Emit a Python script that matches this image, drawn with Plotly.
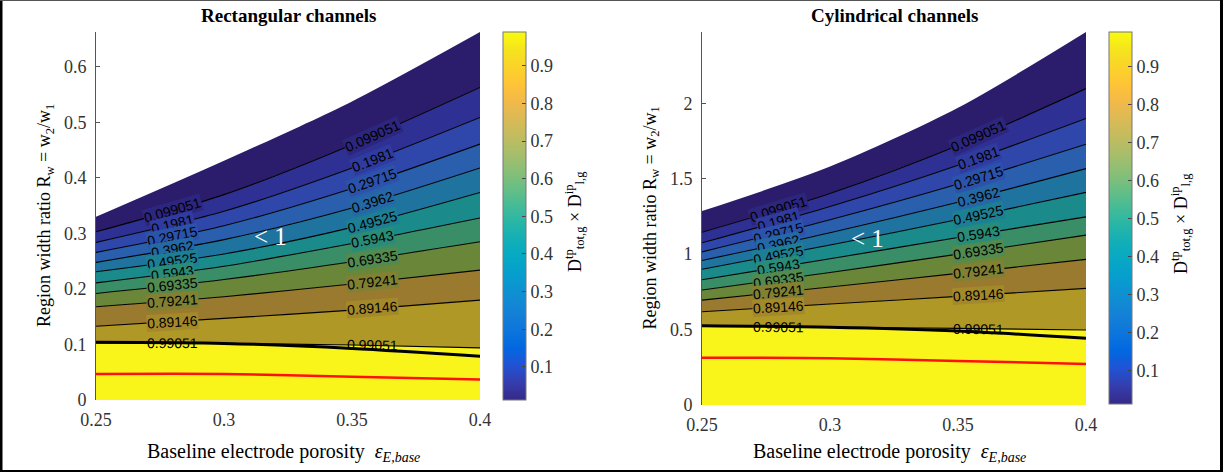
import numpy as np
import plotly.graph_objects as go

W, H = 1223, 472

# Baseline electrode porosity (x) sampling points
porosity = [0.25, 0.30, 0.35, 0.40]

# Contour levels of D_tot,g^tp x D_l,g^ip and their printed labels
levels = [0.099051, 0.1981, 0.29715, 0.3962, 0.49525, 0.5943, 0.69335, 0.79241, 0.89146, 0.99051]
level_text = ["0.099051", "0.1981", "0.29715", "0.3962", "0.49525",
              "0.5943", "0.69335", "0.79241", "0.89146", "0.99051"]

# Rectangular channels: region width ratio of each contour level at each porosity
rect_edge = [0.330, 0.431, 0.538, 0.663]
rect_lines = [
    [0.303, 0.370, 0.460, 0.563],
    [0.284, 0.340, 0.418, 0.509],
    [0.266, 0.314, 0.381, 0.461],
    [0.248, 0.289, 0.346, 0.418],
    [0.231, 0.263, 0.311, 0.374],
    [0.211, 0.241, 0.282, 0.328],
    [0.192, 0.217, 0.249, 0.285],
    [0.168, 0.186, 0.209, 0.234],
    [0.133, 0.147, 0.162, 0.180],
    [0.103, 0.102, 0.099, 0.094],
]
rect_unity = [0.104, 0.102, 0.093, 0.079]
rect_red = [0.047, 0.047, 0.042, 0.037]

# Cylindrical channels
cyl_edge = [1.285, 1.580, 1.970, 2.472]
cyl_lines = [
    [1.145, 1.402, 1.720, 2.097],
    [1.075, 1.315, 1.589, 1.899],
    [1.015, 1.228, 1.465, 1.728],
    [0.958, 1.141, 1.344, 1.567],
    [0.900, 1.060, 1.229, 1.409],
    [0.830, 0.969, 1.110, 1.247],
    [0.762, 0.878, 1.000, 1.126],
    [0.695, 0.782, 0.872, 0.965],
    [0.618, 0.669, 0.720, 0.773],
    [0.525, 0.516, 0.508, 0.497],
]
cyl_unity = [0.525, 0.515, 0.490, 0.442]
cyl_red = [0.313, 0.310, 0.292, 0.272]

# Colour range of the colorbar
c_range = [0.0119, 0.99]

# Filled band colours, from the lowest-value band (top) to the > 0.99 band (bottom)
band_colors = ["#2b1d6b", "#2f3093", "#2f47ab", "#2a5fae", "#1f749f", "#1b8a8a",
               "#3a8e67", "#6a8638", "#997a2e", "#b09826", "#f9f51a"]

parula_rgb = [
    (0.2081, 0.1663, 0.5292), (0.2081, 0.2386, 0.6771), (0.1253, 0.3242, 0.8303),
    (0.0060, 0.4086, 0.8828), (0.0498, 0.4586, 0.8641), (0.0779, 0.5040, 0.8384),
    (0.0641, 0.5570, 0.8240), (0.0265, 0.6137, 0.8135), (0.0228, 0.6535, 0.7768),
    (0.0590, 0.6838, 0.7254), (0.1453, 0.7098, 0.6646), (0.2586, 0.7317, 0.5954),
    (0.3953, 0.7459, 0.5244), (0.5300, 0.7491, 0.4661), (0.6473, 0.7456, 0.4188),
    (0.7525, 0.7384, 0.3768), (0.8507, 0.7299, 0.3360), (0.9450, 0.7261, 0.2886),
    (0.9990, 0.7653, 0.2164), (0.9788, 0.8271, 0.1633), (0.9589, 0.8949, 0.1132),
    (0.9763, 0.9831, 0.0538),
]
parula = [[i / (len(parula_rgb) - 1),
           "rgb(%d,%d,%d)" % tuple(int(round(255 * c)) for c in rgb)]
          for i, rgb in enumerate(parula_rgb)]

SERIF = "Liberation Serif, Times New Roman, serif"
SANS = "Liberation Sans, Arial, sans-serif"
TICK_COLOR = "#333333"


def px_x(p):
    return p / W


def px_y(p):
    return 1 - p / H


def mix(c1, c2):
    a = [int(c1[i:i + 2], 16) for i in (1, 3, 5)]
    b = [int(c2[i:i + 2], 16) for i in (1, 3, 5)]
    return "rgb(%d,%d,%d)" % tuple((u + v) // 2 for u, v in zip(a, b))


panels = [
    dict(title="Rectangular channels", xa="x", ya="y", xk="xaxis", yk="yaxis",
         px=(96, 480), py=(32, 400), edge=rect_edge, lines=rect_lines,
         unity=rect_unity, red=rect_red, yticks=[0, 0.1, 0.2, 0.3, 0.4, 0.5, 0.6],
         ytext=["0", "0.1", "0.2", "0.3", "0.4", "0.5", "0.6"],
         cbar_px=503, cbar_py=(32, 400), lt=(0.318, 0.294)),
    dict(title="Cylindrical channels", xa="x2", ya="y2", xk="xaxis2", yk="yaxis2",
         px=(702, 1086), py=(32, 405), edge=cyl_edge, lines=cyl_lines,
         unity=cyl_unity, red=cyl_red, yticks=[0, 0.5, 1, 1.5, 2],
         ytext=["0", "0.5", "1", "1.5", "2"],
         cbar_px=1109, cbar_py=(32, 404), lt=(0.3145, 1.104)),
]

fig = go.Figure()
annotations = []
layout_axes = {}

for pnl in panels:
    xa, ya = pnl["xa"], pnl["ya"]
    common = dict(xaxis=xa, yaxis=ya, showlegend=False, hoverinfo="skip")
    spline = dict(shape="spline", smoothing=0.8)

    # filled bands, bottom up
    fig.add_trace(go.Scatter(x=porosity, y=pnl["lines"][-1], mode="lines",
                             line=dict(width=0, **spline), fill="tozeroy",
                             fillcolor=band_colors[-1], **common))
    for k in range(len(levels) - 2, -1, -1):
        fig.add_trace(go.Scatter(x=porosity, y=pnl["lines"][k], mode="lines",
                                 line=dict(width=0, **spline), fill="tonexty",
                                 fillcolor=band_colors[k + 1], **common))
    fig.add_trace(go.Scatter(x=porosity, y=pnl["edge"], mode="lines",
                             line=dict(width=0, **spline), fill="tonexty",
                             fillcolor=band_colors[0], **common))

    # contour lines
    for k in range(len(levels)):
        fig.add_trace(go.Scatter(x=porosity, y=pnl["lines"][k], mode="lines",
                                 line=dict(color="black", width=1.1, **spline), **common))
    fig.add_trace(go.Scatter(x=porosity, y=pnl["unity"], mode="lines",
                             line=dict(color="black", width=3, **spline), **common))
    fig.add_trace(go.Scatter(x=porosity, y=pnl["red"], mode="lines",
                             line=dict(color="#ff1010", width=2.5, **spline), **common))

    # colorbar carrier
    x0, x1 = pnl["px"]
    y0, y1 = pnl["py"]
    cb_top, cb_bot = pnl["cbar_py"]
    fig.add_trace(go.Scatter(
        x=[porosity[0]], y=[0], mode="markers",
        marker=dict(size=0.1, opacity=0, color=[0.5], colorscale=parula,
                    cmin=c_range[0], cmax=c_range[1], showscale=True,
                    colorbar=dict(
                        x=px_x(pnl["cbar_px"]), xanchor="left", xpad=0,
                        y=px_y(cb_top), yanchor="top", ypad=0,
                        len=(cb_bot - cb_top) / H, lenmode="fraction",
                        thickness=23, thicknessmode="pixels",
                        outlinewidth=1, outlinecolor="#777777",
                        tickvals=[0.1, 0.2, 0.3, 0.4, 0.5, 0.6, 0.7, 0.8, 0.9],
                        ticktext=["0.1", "0.2", "0.3", "0.4", "0.5", "0.6", "0.7", "0.8", "0.9"],
                        ticks="inside", ticklen=4, tickcolor="#444444",
                        tickfont=dict(family=SERIF, size=18, color=TICK_COLOR))),
        **common))

    ymax = max(pnl["edge"])
    layout_axes[pnl["xk"]] = dict(
        domain=[px_x(x0), px_x(x1)], range=[porosity[0], porosity[-1]], anchor=ya,
        tickvals=[0.25, 0.3, 0.35, 0.4], ticktext=["0.25", "0.3", "0.35", "0.4"],
        showgrid=False, zeroline=False, showline=False, ticks="",
        ticklabelstandoff=7, automargin=False,
        tickfont=dict(family=SERIF, size=18, color=TICK_COLOR))
    layout_axes[pnl["yk"]] = dict(
        domain=[px_y(y1), px_y(y0)], range=[0, ymax], anchor=xa,
        tickvals=pnl["yticks"], ticktext=pnl["ytext"],
        showgrid=False, zeroline=False, showline=True, linecolor="#555555",
        linewidth=1, ticks="inside", ticklen=4, tickcolor="#555555",
        layer="below traces", ticklabelstandoff=5, automargin=False,
        tickfont=dict(family=SERIF, size=18, color=TICK_COLOR))

    # contour labels along the lines
    xppu = (x1 - x0) / (porosity[-1] - porosity[0])
    yppu = (y1 - y0) / ymax
    for lx in (0.28, 0.358):
        for k, txt in enumerate(level_text):
            ys = pnl["lines"][k]
            ly = float(np.interp(lx, porosity, ys))
            seg = min(int((lx - porosity[0]) / 0.05), len(porosity) - 2)
            slope = (ys[seg + 1] - ys[seg]) / (porosity[seg + 1] - porosity[seg])
            ang = np.degrees(np.arctan(slope * yppu / xppu))
            bg = None if k == len(levels) - 1 else mix(band_colors[k], band_colors[k + 1])
            annotations.append(dict(
                x=lx, y=ly, xref=xa, yref=ya, text=txt, textangle=-ang,
                xanchor="center", yanchor="middle",
                showarrow=False, borderpad=0, bgcolor=bg,
                font=dict(family=SANS, size=14, color="black")))

    # "< 1" marker inside the region
    annotations.append(dict(x=pnl["lt"][0], y=pnl["lt"][1], xref=xa, yref=ya,
                            text="&lt; 1", showarrow=False,
                            xanchor="center", yanchor="middle",
                            font=dict(family=SERIF, size=25, color="white")))

    cx = (x0 + x1) / 2
    paper_text = [
        (cx, 15, "<b>%s</b>" % pnl["title"], 0, 19),
        (cx - 5, 452, "Baseline electrode porosity  <i>ε<sub>E,base</sub></i>", 0, 20),
        (x0 - 51, (y0 + y1) / 2,
         "Region width ratio R<sub>w</sub> = w<sub>2</sub>/w<sub>1</sub>", -90, 18),
        (pnl["cbar_px"] + 71, (cb_top + cb_bot) / 2 + 6,
         "D<sup>tp</sup><sub>tot,g</sub> × D<sup>ip</sup><sub>l,g</sub>", -90, 18),
    ]
    for tx, ty, txt, rot, fs in paper_text:
        annotations.append(dict(x=px_x(tx), y=px_y(ty), xref="paper", yref="paper",
                                text=txt, textangle=rot, showarrow=False,
                                xanchor="center", yanchor="middle",
                                font=dict(family=SERIF, size=fs, color="black")))

# outer frame
shapes = [
    dict(type="line", xref="paper", yref="paper", x0=0, x1=0, y0=0, y1=1,
         line=dict(color="black", width=5)),
    dict(type="line", xref="paper", yref="paper", x0=0, x1=1, y0=1, y1=1,
         line=dict(color="#555555", width=2)),
    dict(type="line", xref="paper", yref="paper", x0=1, x1=1, y0=0, y1=1,
         line=dict(color="black", width=6)),
    dict(type="line", xref="paper", yref="paper", x0=0, x1=1, y0=0, y1=0,
         line=dict(color="black", width=4)),
]

fig.update_layout(
    width=W, height=H, autosize=False,
    margin=dict(l=0, r=0, t=0, b=0, pad=0),
    paper_bgcolor="white", plot_bgcolor="rgba(0,0,0,0)",
    annotations=annotations, shapes=shapes, showlegend=False,
    **layout_axes)

fig.write_html("out.html")
